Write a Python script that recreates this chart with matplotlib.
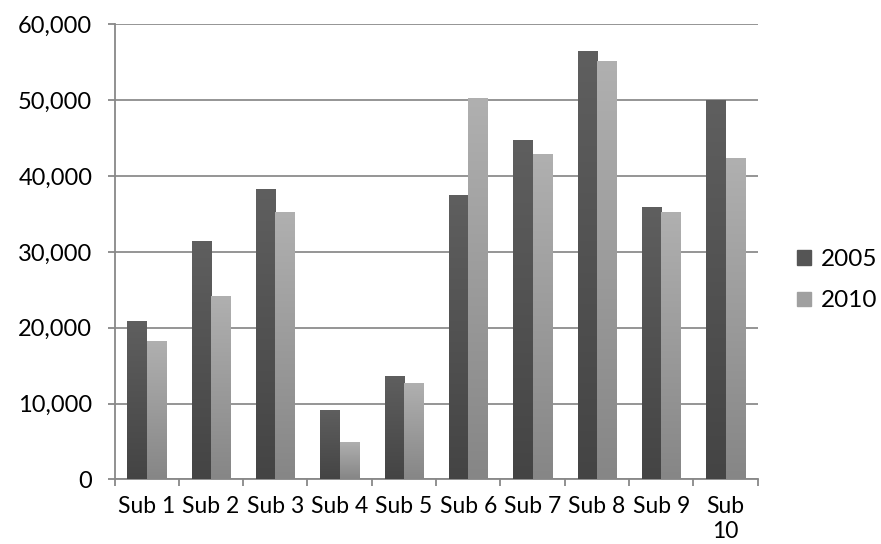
import numpy as np
import matplotlib.pyplot as plt
from matplotlib.ticker import FuncFormatter, FixedLocator
from matplotlib.patches import Patch

categories = ['Sub 1', 'Sub 2', 'Sub 3', 'Sub 4', 'Sub 5', 'Sub 6', 'Sub 7', 'Sub 8', 'Sub 9', 'Sub\n10']
v2005 = [20900, 31450, 38300, 9170, 13650, 37570, 44790, 56530, 35950, 50070]
v2010 = [18270, 24200, 35300, 4950, 12730, 50330, 42940, 55210, 35290, 42420]

plt.rcParams['font.family'] = ['Lato', 'DejaVu Sans']

fig = plt.figure(figsize=(8.81, 5.44), dpi=100)
ax = fig.add_axes([0.130, 0.1186, 0.730, 0.8364])

x = np.arange(len(categories))
w = 0.3

def grad_bars(xs, vals, top, bottom):
    bars = ax.bar(xs, vals, w, color=top, zorder=3)
    g = np.linspace(0, 1, 256).reshape(-1, 1)
    c0 = np.array(plt.matplotlib.colors.to_rgb(bottom))
    c1 = np.array(plt.matplotlib.colors.to_rgb(top))
    img = c0 + (c1 - c0) * g[..., None]
    for b in bars:
        bx, by = b.get_x(), b.get_y()
        im = ax.imshow(img, extent=[bx, bx + b.get_width(), by, by + b.get_height()],
                       origin='lower', aspect='auto', zorder=4)
        im.set_clip_path(b)
    return bars

grad_bars(x - w / 2, v2005, '#5f5f5f', '#444444')
grad_bars(x + w / 2, v2010, '#b0b0b0', '#868686')

ax.set_xlim(-0.5, 9.5)
ax.set_ylim(0, 60000)
ax.set_yticks(np.arange(0, 60001, 10000))
ax.yaxis.set_major_formatter(FuncFormatter(lambda v, p: f'{int(v):,}'))
ax.grid(axis='y', color='#8c8c8c', linewidth=1.3, zorder=0)
ax.set_axisbelow(True)

ax.set_xticks(x)
ax.set_xticklabels(categories, fontsize=16.5, va='top')
ax.xaxis.set_minor_locator(FixedLocator(np.arange(-0.5, 10, 1)))
ax.tick_params(axis='x', which='major', length=0, pad=12)
ax.tick_params(axis='x', which='minor', length=5, color='#888888', width=1.3)
ax.tick_params(axis='y', length=5, color='#888888', width=1.3, labelsize=17, pad=11)

for s in ['top', 'right']:
    ax.spines[s].set_visible(False)
for s in ['left', 'bottom']:
    ax.spines[s].set_color('#888888')
    ax.spines[s].set_linewidth(1.3)

handles = [Patch(color='#555555', label='2005'), Patch(color='#a0a0a0', label='2010')]
fig.legend(handles=handles, loc='center left', bbox_to_anchor=(0.905, 0.485),
           frameon=False, fontsize=17.5, handlelength=0.55, handleheight=0.55,
           handletextpad=0.4, labelspacing=0.85, borderpad=0, borderaxespad=0)

fig.savefig('out.png', dpi=100)
